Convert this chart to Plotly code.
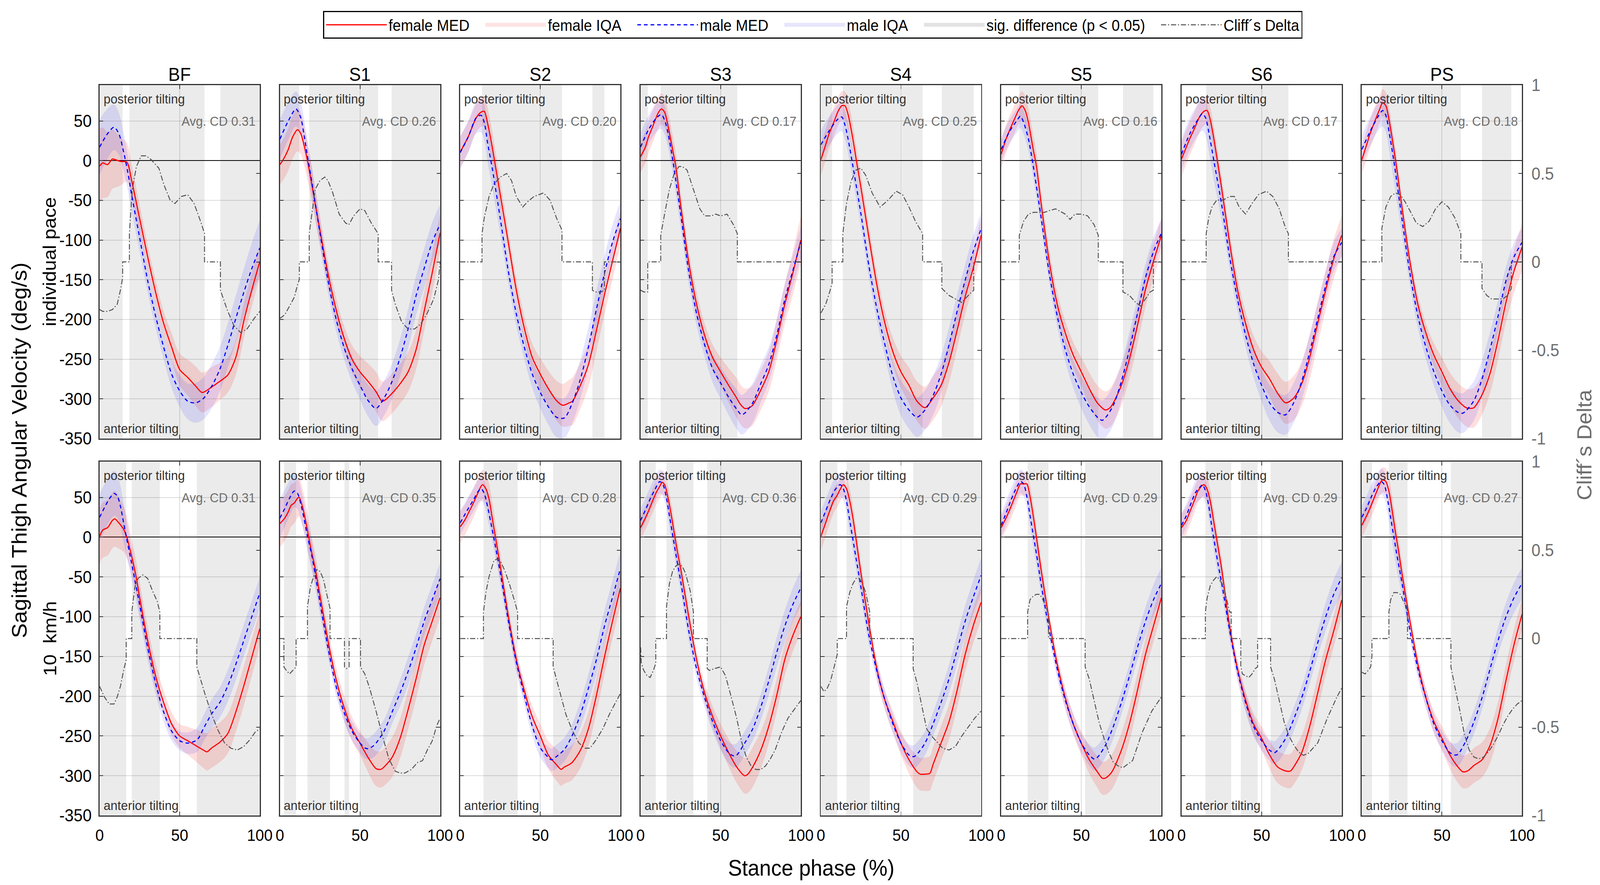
import numpy as np
import plotly.graph_objects as go
from plotly.subplots import make_subplots

# ---------------- DATA ----------------
MUSCLES = ["BF", "S1", "S2", "S3", "S4", "S5", "S6", "PS"]
ROW_LABELS = ["individual pace", "10\u00a0 km/h"]
X_TICKS = [0, 50, 100]
Y_TICKS = [-350, -300, -250, -200, -150, -100, -50, 0, 50]
CD_TICKS = [-1, -0.5, 0, 0.5, 1]
CD_TICK_TEXT = ["-1", "-0.5", "0", "0.5", "1"]
IQR_GRID = [0, 10, 20, 30, 40, 50, 60, 70, 80, 90, 100]

# --- individual pace: (stance %, deg/s) medians
IND_F_MED = {
    "BF": [(0,-7),(2,-3),(5,-5),(8,2),(10,1),(13,-1),(17,-2),(20,-25),(25,-73),(30,-121),(35,-166),(40,-205),(45,-235),(50,-263),(55,-273),(60,-284),(64,-292),(70,-285),(75,-278),(80,-270),(85,-248),(90,-202),(95,-163),(100,-127)],
    "S1": [(0,-5),(2,1),(5,13),(8,30),(11,39),(13,34),(15,20),(17,2),(20,-31),(25,-88),(30,-142),(35,-187),(40,-223),(45,-250),(50,-266),(55,-278),(60,-291),(64,-303),(70,-293),(75,-281),(80,-266),(85,-238),(90,-190),(95,-142),(100,-91)],
    "S2": [(0,11),(5,30),(10,54),(13,61),(15,62),(17,48),(20,17),(22,-7),(25,-43),(30,-103),(35,-163),(40,-211),(45,-248),(50,-269),(55,-287),(60,-302),(64,-308),(68,-305),(70,-303),(75,-283),(80,-257),(85,-214),(90,-169),(95,-127),(100,-85)],
    "S3": [(0,5),(3,17),(5,30),(8,45),(11,60),(13,65),(15,61),(17,45),(20,14),(22,-7),(25,-55),(30,-127),(35,-181),(40,-220),(45,-248),(50,-266),(55,-283),(60,-299),(62,-306),(65,-312),(68,-311),(70,-308),(75,-289),(80,-266),(85,-226),(90,-181),(95,-142),(100,-100)],
    "S4": [(0,1),(3,20),(5,33),(8,48),(11,63),(13,69),(15,69),(17,58),(20,27),(22,2),(25,-34),(30,-97),(35,-157),(40,-205),(45,-241),(50,-266),(55,-283),(60,-303),(65,-311),(70,-299),(75,-283),(80,-254),(85,-214),(90,-172),(95,-136),(100,-94)],
    "S5": [(0,8),(3,27),(5,37),(8,51),(11,64),(13,69),(15,63),(17,48),(20,14),(22,-7),(25,-55),(30,-127),(35,-181),(40,-217),(45,-245),(50,-266),(55,-287),(60,-305),(65,-314),(68,-311),(70,-305),(75,-283),(80,-250),(85,-208),(90,-163),(95,-127),(100,-94)],
    "S6": [(0,2),(3,17),(5,27),(8,40),(11,54),(14,62),(16,63),(18,51),(20,30),(22,5),(25,-34),(30,-103),(35,-163),(40,-205),(45,-238),(50,-260),(55,-275),(60,-293),(65,-305),(70,-299),(75,-281),(80,-248),(85,-205),(90,-163),(95,-124),(100,-94)],
    "PS": [(0,1),(3,20),(5,33),(8,49),(11,64),(13,73),(15,69),(17,51),(20,14),(22,-13),(25,-58),(30,-127),(35,-181),(40,-217),(45,-245),(50,-266),(55,-287),(60,-302),(65,-311),(68,-312),(70,-311),(75,-295),(80,-268),(85,-226),(90,-178),(95,-139),(100,-109)],
}
IND_M_MED = {
    "BF": [(0,17),(5,34),(9,42),(12,34),(15,11),(18,-19),(20,-43),(25,-97),(30,-151),(35,-196),(40,-235),(45,-269),(50,-290),(55,-303),(60,-305),(65,-299),(70,-284),(75,-263),(80,-233),(85,-199),(90,-166),(95,-136),(100,-110)],
    "S1": [(0,27),(5,49),(10,65),(13,54),(15,33),(17,8),(20,-28),(25,-91),(30,-151),(35,-199),(40,-235),(45,-262),(50,-283),(55,-302),(60,-312),(65,-299),(70,-278),(75,-248),(80,-212),(85,-170),(90,-136),(95,-103),(100,-80)],
    "S2": [(0,10),(5,30),(10,54),(13,57),(15,48),(17,23),(20,-10),(25,-73),(30,-139),(35,-193),(40,-235),(45,-269),(50,-292),(55,-310),(60,-323),(65,-324),(70,-305),(75,-275),(80,-235),(85,-187),(90,-142),(95,-103),(100,-73)],
    "S3": [(0,17),(5,39),(10,54),(13,58),(15,51),(17,36),(20,2),(25,-67),(30,-139),(35,-193),(40,-232),(45,-262),(50,-280),(55,-298),(60,-313),(63,-320),(65,-318),(70,-305),(75,-281),(80,-257),(85,-220),(90,-175),(95,-139),(100,-103)],
    "S4": [(0,20),(5,37),(10,51),(13,55),(15,45),(17,27),(20,-7),(25,-67),(30,-133),(35,-187),(40,-232),(45,-272),(50,-299),(55,-314),(60,-323),(65,-314),(70,-296),(75,-269),(80,-232),(85,-190),(90,-151),(95,-115),(100,-86)],
    "S5": [(0,14),(5,36),(10,51),(12,56),(14,48),(17,27),(20,-7),(25,-73),(30,-142),(35,-196),(40,-238),(45,-269),(50,-292),(55,-310),(60,-323),(63,-327),(65,-324),(70,-308),(75,-278),(80,-238),(85,-193),(90,-148),(95,-115),(100,-91)],
    "S6": [(0,8),(5,33),(10,51),(13,59),(15,54),(17,36),(20,2),(25,-55),(30,-121),(35,-175),(40,-220),(45,-256),(50,-283),(55,-305),(60,-317),(65,-320),(70,-305),(75,-278),(80,-241),(85,-199),(90,-157),(95,-121),(100,-103)],
    "PS": [(0,14),(5,36),(10,55),(13,63),(15,57),(17,36),(20,-1),(25,-73),(30,-142),(35,-196),(40,-235),(45,-266),(50,-290),(55,-308),(60,-317),(63,-318),(65,-315),(70,-302),(75,-275),(80,-238),(85,-196),(90,-151),(95,-121),(100,-103)],
}
# IQR half-widths (deg/s) at IQR_GRID
IND_F_IQR = {
    "BF": [47, 35, 20, 15, 15, 20, 25, 25, 22, 22, 20],
    "S1": [25, 28, 22, 15, 15, 20, 25, 25, 25, 25, 25],
    "S2": [20, 18, 20, 15, 15, 20, 25, 30, 28, 25, 22],
    "S3": [20, 20, 18, 15, 15, 18, 25, 25, 25, 25, 30],
    "S4": [20, 18, 18, 15, 15, 20, 25, 28, 25, 22, 22],
    "S5": [18, 18, 18, 15, 15, 18, 22, 25, 25, 22, 22],
    "S6": [22, 20, 15, 15, 15, 20, 25, 28, 28, 25, 25],
    "PS": [18, 18, 15, 12, 12, 18, 22, 25, 25, 25, 30],
}
IND_M_IQR = {
    "BF": [35, 28, 20, 15, 15, 20, 25, 28, 28, 30, 35],
    "S1": [25, 22, 18, 15, 15, 18, 22, 22, 25, 25, 25],
    "S2": [20, 20, 25, 15, 15, 20, 25, 25, 25, 22, 22],
    "S3": [18, 18, 18, 15, 15, 20, 25, 25, 22, 20, 20],
    "S4": [18, 18, 18, 15, 15, 22, 25, 25, 22, 20, 20],
    "S5": [15, 15, 15, 12, 15, 20, 25, 25, 22, 18, 18],
    "S6": [20, 20, 25, 15, 15, 20, 25, 25, 22, 18, 18],
    "PS": [18, 18, 25, 15, 15, 20, 25, 25, 22, 18, 18],
}
# Cliff's delta (stance %, delta)
IND_CD = {
    "BF": [(0,-0.27),(2,-0.28),(5,-0.28),(8,-0.27),(11,-0.24),(13,-0.16),(14.4,-0.09),(14.4,0),(18.6,0),(18.6,0.16),(20.4,0.41),(23,0.54),(26,0.6),(29,0.6),(32,0.58),(37,0.53),(40,0.44),(44,0.35),(47,0.33),(51,0.37),(55,0.38),(59,0.33),(63,0.23),(65.5,0.16),(65.5,0),(75.4,0),(75.4,-0.16),(79.6,-0.27),(83.8,-0.36),(88,-0.40),(92,-0.38),(96.5,-0.32),(100,-0.28)],
    "S1": [(0,-0.32),(3,-0.30),(6,-0.25),(9,-0.2),(11,-0.13),(12.1,-0.1),(12.1,0),(18.3,0),(18.3,0.16),(20,0.27),(22,0.41),(25,0.46),(28,0.48),(30,0.46),(33,0.39),(37,0.27),(41,0.22),(43,0.21),(46,0.26),(50,0.30),(53,0.29),(57,0.22),(61.3,0.16),(61.3,0),(69.7,0),(69.7,-0.16),(72,-0.24),(76,-0.34),(80,-0.38),(84,-0.38),(88,-0.35),(92,-0.29),(96,-0.21),(99,-0.1),(100,0)],
    "S2": [(0,0),(13.6,0),(13.6,0.16),(15,0.25),(18,0.37),(21,0.44),(25,0.48),(29,0.50),(32,0.46),(35,0.37),(39,0.31),(42,0.34),(46,0.37),(52,0.39),(56,0.35),(60,0.25),(63.5,0.18),(63.5,0),(82.5,0),(82.5,-0.16),(84,-0.17),(88,-0.17),(90,-0.16),(90,0),(100,0)],
    "S3": [(0,-0.16),(2,-0.17),(4.5,-0.17),(4.5,0),(12.6,0),(12.6,0.15),(15,0.27),(18,0.41),(21,0.50),(24,0.54),(26,0.54),(29,0.52),(33,0.41),(37,0.30),(40,0.26),(44,0.26),(47,0.27),(50,0.26),(54,0.27),(58,0.21),(60.4,0.16),(60.4,0),(100,0)],
    "S4": [(0,-0.29),(3,-0.24),(5.5,-0.17),(7,-0.12),(7,0),(13.7,0),(13.7,0.16),(16,0.33),(19,0.46),(22,0.52),(25,0.53),(28,0.49),(32,0.39),(37,0.31),(42,0.35),(47,0.40),(51,0.38),(55,0.31),(59,0.23),(63.5,0.16),(63.5,0),(75.5,0),(75.5,-0.15),(80,-0.19),(84,-0.21),(88,-0.23),(92,-0.19),(95.4,-0.16),(95.4,0),(100,0)],
    "S5": [(0,0),(11.3,0),(11.3,0.15),(14,0.23),(17,0.27),(20,0.28),(24,0.28),(27,0.28),(30,0.29),(34,0.30),(36,0.29),(40,0.27),(43,0.24),(46,0.27),(50,0.27),(54,0.26),(58,0.21),(60.6,0.15),(60.6,0),(76,0),(76,-0.17),(80,-0.19),(84,-0.23),(87,-0.25),(90,-0.21),(93,-0.17),(95,-0.16),(95,0),(100,0)],
    "S6": [(0,0),(15.4,0),(15.4,0.16),(17,0.25),(19,0.31),(22,0.35),(26,0.35),(30,0.37),(33,0.37),(36,0.31),(40,0.27),(44,0.33),(48,0.38),(53,0.40),(57,0.37),(61,0.30),(65,0.19),(66.7,0.16),(66.7,0),(100,0)],
    "PS": [(0,0),(12.5,0),(12.5,0.19),(15,0.31),(18,0.37),(21,0.39),(24,0.38),(27,0.34),(30,0.29),(34,0.22),(38,0.20),(42,0.23),(46,0.30),(50,0.34),(54,0.31),(58,0.25),(61,0.18),(61.8,0.16),(61.8,0),(75,0),(75,-0.15),(78,-0.19),(81,-0.21),(85,-0.21),(88,-0.21),(91,-0.19),(93.3,-0.15),(93.3,0),(100,0)],
}
IND_SIG = {
    "BF": [(0,14.4),(18.6,65.5),(75.4,100)],
    "S1": [(0,12.1),(18.3,61.3),(69.7,100)],
    "S2": [(13.6,63.5),(82.5,90)],
    "S3": [(0,4.5),(12.6,60.4)],
    "S4": [(0,7),(13.7,63.5),(75.5,95.4)],
    "S5": [(11.3,60.6),(76,95)],
    "S6": [(15.4,66.7)],
    "PS": [(12.5,61.8),(75,93.3)],
}
IND_AVG_CD = {"BF": 0.31, "S1": 0.26, "S2": 0.20, "S3": 0.17, "S4": 0.25, "S5": 0.16, "S6": 0.17, "PS": 0.18}

# --- 10 km/h
KMH_F_MED = {
    "BF": [(0,1),(2,9),(5,12),(8,21),(9.5,23),(12,18),(15,10),(17,0),(20,-24),(23,-52),(25,-76),(30,-130),(35,-175),(40,-208),(45,-235),(50,-250),(55,-256),(60,-262),(65,-268),(67,-270),(70,-265),(75,-258),(80,-247),(85,-220),(90,-187),(95,-151),(100,-115)],
    "S1": [(0,17),(3,24),(5,31),(7,40),(9,43),(11,49),(12,50),(14,39),(16,21),(18,0),(20,-21),(22,-39),(25,-73),(30,-130),(35,-178),(40,-214),(45,-241),(50,-259),(55,-277),(60,-291),(63,-292),(65,-289),(70,-277),(75,-253),(80,-217),(85,-178),(90,-136),(95,-106),(100,-76)],
    "S2": [(0,13),(3,22),(5,30),(8,42),(10,51),(13,64),(14,66),(16,61),(18,48),(20,24),(22,0),(25,-36),(30,-99),(35,-154),(40,-193),(45,-226),(50,-250),(55,-274),(60,-286),(63,-292),(65,-289),(68,-286),(70,-283),(75,-268),(80,-241),(85,-199),(90,-151),(95,-106),(100,-64)],
    "S3": [(0,12),(3,24),(5,33),(8,48),(10,57),(12,64),(13.5,69),(15,66),(17,51),(19,30),(21,6),(23,-18),(25,-39),(30,-99),(35,-154),(40,-196),(45,-226),(50,-250),(55,-271),(60,-289),(65,-300),(67,-298),(70,-289),(75,-268),(80,-238),(85,-199),(90,-154),(95,-124),(100,-100)],
    "S4": [(0,1),(3,18),(5,30),(8,46),(10,52),(12,60),(14,66),(16,61),(18,46),(20,24),(22,-3),(25,-45),(30,-109),(35,-166),(40,-205),(45,-232),(50,-259),(55,-280),(60,-295),(62,-298),(65,-298),(68,-297),(70,-286),(75,-259),(80,-232),(85,-193),(90,-148),(95,-112),(100,-82)],
    "S5": [(0,12),(3,24),(5,33),(8,48),(10,58),(12,67),(14,67),(16,67),(18,51),(20,27),(22,0),(25,-42),(30,-105),(35,-160),(40,-202),(45,-235),(50,-259),(55,-280),(60,-295),(63,-303),(65,-303),(68,-298),(70,-292),(75,-268),(80,-235),(85,-193),(90,-148),(95,-112),(100,-76)],
    "S6": [(0,12),(3,21),(5,31),(8,46),(10,57),(12,63),(14,66),(16,60),(18,45),(20,21),(22,-3),(25,-39),(30,-112),(35,-166),(40,-205),(45,-235),(50,-253),(55,-274),(60,-289),(65,-294),(68,-294),(70,-289),(75,-271),(80,-238),(85,-196),(90,-154),(95,-118),(100,-79)],
    "PS": [(0,15),(3,27),(5,36),(8,51),(10,61),(12,70),(13,72),(15,70),(17,57),(19,33),(21,6),(23,-18),(25,-45),(30,-105),(35,-160),(40,-202),(45,-232),(50,-253),(55,-274),(60,-289),(63,-295),(66,-294),(70,-287),(75,-280),(80,-262),(85,-228),(90,-180),(95,-135),(100,-97)],
}
KMH_M_MED = {
    "BF": [(0,25),(3,37),(6,48),(9,55),(11,52),(13,39),(15,18),(17,-3),(20,-33),(25,-85),(30,-139),(35,-184),(40,-220),(45,-244),(50,-256),(55,-259),(60,-256),(62,-252),(65,-240),(70,-222),(75,-208),(80,-187),(85,-160),(90,-130),(95,-100),(100,-70)],
    "S1": [(0,24),(3,36),(6,49),(9,58),(11,55),(13,42),(15,24),(17,3),(20,-24),(25,-82),(30,-139),(35,-187),(40,-220),(45,-244),(50,-259),(53,-265),(55,-266),(58,-263),(60,-259),(65,-244),(70,-220),(75,-196),(80,-169),(85,-139),(90,-106),(95,-79),(100,-52)],
    "S2": [(0,18),(5,36),(8,46),(11,57),(13,61),(15,55),(17,39),(20,9),(22,-12),(25,-45),(30,-105),(35,-157),(40,-199),(45,-238),(50,-265),(55,-277),(57,-280),(60,-276),(65,-267),(70,-249),(75,-223),(80,-190),(85,-154),(90,-112),(95,-76),(100,-39)],
    "S3": [(0,21),(3,34),(6,48),(9,60),(12,70),(14,66),(16,51),(18,27),(20,3),(22,-21),(25,-55),(30,-117),(35,-166),(40,-202),(45,-232),(50,-256),(55,-271),(58,-275),(60,-274),(65,-259),(70,-241),(75,-214),(80,-181),(85,-145),(90,-112),(95,-85),(100,-64)],
    "S4": [(0,18),(3,33),(6,48),(9,60),(12,66),(14,61),(16,45),(18,21),(20,-3),(22,-27),(25,-63),(30,-124),(35,-169),(40,-205),(45,-235),(50,-259),(55,-274),(58,-276),(60,-273),(65,-259),(70,-235),(75,-208),(80,-178),(85,-142),(90,-106),(95,-76),(100,-48)],
    "S5": [(0,15),(3,30),(6,46),(9,60),(12,70),(14,67),(16,51),(18,27),(20,3),(22,-21),(25,-60),(30,-117),(35,-166),(40,-205),(45,-235),(50,-259),(55,-274),(58,-279),(60,-277),(65,-262),(70,-238),(75,-208),(80,-175),(85,-139),(90,-106),(95,-79),(100,-58)],
    "S6": [(0,15),(3,27),(6,43),(9,57),(12,64),(13,66),(15,58),(17,39),(19,12),(21,-12),(23,-36),(25,-57),(30,-117),(35,-169),(40,-208),(45,-238),(50,-256),(55,-268),(58,-271),(60,-268),(65,-253),(70,-229),(75,-202),(80,-169),(85,-133),(90,-100),(95,-72),(100,-51)],
    "PS": [(0,25),(3,37),(6,51),(9,63),(12,70),(14,66),(16,48),(18,24),(20,0),(22,-24),(25,-57),(30,-117),(35,-166),(40,-202),(45,-235),(50,-256),(55,-271),(58,-274),(60,-273),(65,-256),(70,-232),(75,-202),(80,-166),(85,-130),(90,-100),(95,-76),(100,-58)],
}
KMH_F_IQR = {
    "BF": [35, 35, 22, 18, 15, 15, 20, 25, 25, 25, 22],
    "S1": [30, 25, 20, 15, 15, 15, 22, 25, 25, 25, 25],
    "S2": [20, 18, 20, 12, 12, 15, 20, 22, 22, 22, 22],
    "S3": [15, 15, 15, 12, 12, 15, 20, 25, 22, 20, 20],
    "S4": [18, 15, 15, 12, 12, 15, 20, 22, 22, 22, 22],
    "S5": [15, 15, 15, 12, 12, 15, 20, 22, 22, 20, 20],
    "S6": [18, 15, 15, 12, 12, 15, 20, 22, 22, 20, 20],
    "PS": [15, 15, 18, 12, 12, 15, 20, 22, 22, 20, 20],
}
KMH_M_IQR = {
    "BF": [30, 28, 20, 15, 12, 12, 15, 18, 20, 20, 20],
    "S1": [25, 20, 18, 12, 12, 12, 15, 15, 18, 18, 20],
    "S2": [15, 15, 15, 12, 12, 12, 15, 15, 18, 20, 22],
    "S3": [15, 15, 15, 12, 12, 12, 15, 15, 18, 20, 22],
    "S4": [15, 15, 15, 12, 12, 12, 15, 15, 18, 20, 22],
    "S5": [15, 15, 15, 12, 12, 12, 15, 15, 15, 18, 20],
    "S6": [15, 15, 15, 12, 12, 12, 15, 15, 15, 18, 20],
    "PS": [15, 15, 20, 12, 12, 12, 15, 15, 15, 18, 20],
}
KMH_CD = {
    "BF": [(0,-0.27),(3,-0.33),(6,-0.37),(9,-0.37),(11,-0.33),(13,-0.27),(15,-0.18),(16.6,-0.12),(16.6,0),(20.1,0),(20.1,0.15),(22,0.29),(24,0.34),(27,0.36),(30,0.34),(33,0.27),(36,0.21),(37.6,0.15),(37.6,0),(60.7,0),(60.7,-0.16),(63,-0.23),(66,-0.32),(70,-0.43),(74,-0.52),(78,-0.59),(82,-0.62),(86,-0.63),(90,-0.61),(94,-0.57),(97,-0.53),(100,-0.51)],
    "S1": [(0,0),(2.5,0),(2.5,-0.16),(4,-0.18),(6,-0.20),(8,-0.18),(10.1,-0.16),(10.1,0),(17.2,0),(17.2,0.18),(19,0.29),(21,0.35),(23,0.39),(25,0.38),(27,0.34),(29,0.26),(31.3,0.17),(31.3,0),(40.3,0),(40.3,-0.16),(41.5,-0.17),(43.2,-0.16),(43.2,0),(50.3,0),(50.3,-0.16),(53,-0.2),(56,-0.28),(60,-0.41),(64,-0.55),(68,-0.68),(72,-0.75),(75,-0.76),(78,-0.76),(82,-0.74),(86,-0.70),(89,-0.69),(92,-0.63),(95,-0.58),(98,-0.49),(100,-0.45)],
    "S2": [(0,0),(14.5,0),(14.5,0.15),(16,0.26),(18,0.35),(21,0.44),(23,0.45),(25,0.44),(28,0.38),(31,0.30),(34,0.21),(35.8,0.15),(35.8,0),(58,0),(58,-0.16),(60,-0.23),(63,-0.33),(66,-0.43),(70,-0.52),(74,-0.59),(78,-0.62),(81,-0.62),(85,-0.57),(89,-0.51),(93,-0.43),(97,-0.36),(100,-0.31)],
    "S3": [(0,-0.05),(0.5,-0.14),(2,-0.18),(4,-0.21),(6,-0.22),(8,-0.18),(9.5,-0.14),(9.5,0),(16.2,0),(16.2,0.18),(18,0.31),(20,0.38),(22,0.41),(24,0.42),(26,0.41),(28,0.37),(31,0.27),(33,0.15),(33,0),(41.6,0),(41.6,-0.17),(43,-0.18),(46,-0.17),(50,-0.16),(53,-0.21),(56,-0.31),(60,-0.45),(63,-0.58),(66,-0.67),(69,-0.72),(72,-0.74),(75,-0.74),(78,-0.72),(81,-0.68),(84,-0.63),(88,-0.53),(92,-0.45),(96,-0.40),(100,-0.35)],
    "S4": [(0,-0.27),(2,-0.30),(4,-0.28),(6,-0.24),(8,-0.17),(10.2,-0.09),(10.2,0),(16,0),(16,0.18),(18,0.26),(20,0.31),(22,0.34),(24,0.34),(26,0.31),(28,0.26),(30.5,0.15),(30.5,0),(57.6,0),(57.6,-0.17),(60,-0.25),(63,-0.38),(66,-0.51),(69,-0.55),(72,-0.58),(76,-0.62),(80,-0.63),(84,-0.61),(88,-0.55),(92,-0.50),(96,-0.45),(100,-0.41)],
    "S5": [(0,0),(16.5,0),(16.5,0.15),(18,0.22),(20,0.24),(22,0.25),(24,0.25),(26,0.22),(28,0.18),(29.5,0.14),(29.5,0),(52.4,0),(52.4,-0.16),(55,-0.23),(58,-0.35),(61,-0.47),(64,-0.56),(67,-0.64),(70,-0.70),(73,-0.72),(76,-0.73),(79,-0.71),(82,-0.69),(85,-0.61),(88,-0.53),(91,-0.47),(94,-0.41),(97,-0.37),(100,-0.33)],
    "S6": [(0,0),(14.9,0),(14.9,0.15),(16,0.23),(18,0.30),(20,0.33),(22,0.35),(24,0.33),(26,0.30),(28,0.23),(30,0.15),(31,0.15),(31,0),(37,0),(37,-0.16),(38,-0.20),(40,-0.21),(42,-0.22),(44,-0.20),(46,-0.17),(47.5,-0.16),(47.5,0),(55.6,0),(55.6,-0.16),(58,-0.23),(61,-0.35),(64,-0.47),(67,-0.55),(70,-0.60),(73,-0.64),(76,-0.66),(79,-0.65),(82,-0.62),(85,-0.59),(88,-0.52),(91,-0.45),(94,-0.39),(97,-0.33),(100,-0.28)],
    "PS": [(0,-0.19),(2,-0.20),(4,-0.18),(5.5,-0.16),(6.3,-0.1),(6.3,0),(16.9,0),(16.9,0.15),(18,0.22),(20,0.26),(22,0.26),(24,0.25),(26,0.21),(28,0.18),(28.5,0.14),(28.5,0),(55.6,0),(55.6,-0.16),(58,-0.27),(61,-0.40),(64,-0.54),(67,-0.63),(70,-0.67),(73,-0.68),(76,-0.67),(79,-0.64),(82,-0.60),(85,-0.55),(88,-0.49),(91,-0.44),(94,-0.40),(97,-0.37),(100,-0.35)],
}
KMH_SIG = {
    "BF": [(0,16.6),(20.1,37.6),(60.7,100)],
    "S1": [(2.5,10.1),(17.2,31.3),(40.3,43.2),(50.3,100)],
    "S2": [(14.5,35.8),(58,100)],
    "S3": [(0,9.5),(16.2,33),(41.6,100)],
    "S4": [(0,10.2),(16,30.5),(57.6,100)],
    "S5": [(16.5,29.5),(52.4,100)],
    "S6": [(14.9,31),(37,47.5),(55.6,100)],
    "PS": [(0,6.3),(16.9,28.5),(55.6,100)],
}
KMH_AVG_CD = {"BF": 0.31, "S1": 0.35, "S2": 0.28, "S3": 0.36, "S4": 0.29, "S5": 0.29, "S6": 0.29, "PS": 0.27}

ROWS = [
    (IND_F_MED, IND_M_MED, IND_F_IQR, IND_M_IQR, IND_CD, IND_SIG, IND_AVG_CD),
    (KMH_F_MED, KMH_M_MED, KMH_F_IQR, KMH_M_IQR, KMH_CD, KMH_SIG, KMH_AVG_CD),
]

# ---------------- STYLE ----------------
W, H = 4354, 2266
FONT = "Liberation Sans, Arial, Helvetica, sans-serif"
F_COL = "#ff0000"
M_COL = "#0000ff"
F_FILL = "rgba(255,0,0,0.13)"
M_FILL = "rgba(0,0,255,0.10)"
SIG_COL = "#ebebeb"
CD_COL = "#505050"
GRID_COL = "rgba(0,0,0,0.14)"
AX_COL = "#333333"
PAD = "\u00a0\u00a0\u00a0"   # spacing after legend entries

PANEL_LEFT = 271
PANEL_PITCH = 490.7
PANEL_W = 436
ROW_PX = [(218, 1123), (1182, 2088)]

fig = make_subplots(rows=2, cols=8, specs=[[{"secondary_y": True}] * 8 for _ in range(2)])


def pairs(p):
    xs, ys = zip(*p)
    return np.array(xs, float), np.array(ys, float)


for r, (FM, MM, FI, MI, CDD, SIG, AVG) in enumerate(ROWS):
    for c, mus in enumerate(MUSCLES):
        row, col = r + 1, c + 1
        first = (r == 0 and c == 0)
        x0 = (PANEL_LEFT + PANEL_PITCH * c) / W
        x1 = (PANEL_LEFT + PANEL_PITCH * c + PANEL_W) / W
        yt, yb = ROW_PX[r]
        dom_y = [1 - yb / H, 1 - yt / H]
        sp = fig.get_subplot(row, col)
        sp2 = fig.get_subplot(row, col, secondary_y=True)
        sp.xaxis.domain = [x0, x1]
        sp.yaxis.domain = dom_y
        sp2.yaxis.domain = dom_y

        for med, iqr, fill in ((FM[mus], FI[mus], F_FILL), (MM[mus], MI[mus], M_FILL)):
            xs, ys = pairs(med)
            sprd = np.interp(xs, IQR_GRID, iqr)
            fig.add_trace(go.Scatter(x=xs, y=ys + sprd, mode="lines", line=dict(width=0, shape="spline"),
                                     showlegend=False, hoverinfo="skip"), row=row, col=col, secondary_y=False)
            fig.add_trace(go.Scatter(x=xs, y=ys - sprd, mode="lines", line=dict(width=0, shape="spline"),
                                     fill="tonexty", fillcolor=fill, showlegend=False, hoverinfo="skip"),
                          row=row, col=col, secondary_y=False)

        for med, colr, dash, nm, rank in ((FM[mus], F_COL, "solid", "female MED", 1),
                                          (MM[mus], M_COL, "10px,8px", "male MED", 3)):
            xs, ys = pairs(med)
            fig.add_trace(go.Scatter(x=xs, y=ys, mode="lines", name=nm + PAD,
                                     line=dict(color=colr, width=3, dash=dash, shape="spline", smoothing=0.8),
                                     showlegend=first, legendrank=rank, legendgroup=nm),
                          row=row, col=col, secondary_y=False)

        xs, ys = pairs(CDD[mus])
        fig.add_trace(go.Scatter(x=xs, y=ys, mode="lines", name="Cliff\u00b4s Delta",
                                 line=dict(color=CD_COL, width=2.5, dash="14px,5px,3px,5px"),
                                 showlegend=first, legendrank=6, legendgroup="cd"),
                      row=row, col=col, secondary_y=True)

        # significant-difference bands
        for a, b in SIG[mus]:
            fig.add_vrect(x0=a, x1=b, row=row, col=col, fillcolor=SIG_COL, opacity=1,
                          line_width=0, layer="below", exclude_empty_subplots=False)

        # axes
        fig.update_xaxes(range=[0, 100], tickvals=X_TICKS, ticks="inside", ticklen=10, tickwidth=2,
                         tickcolor=AX_COL, showline=True, linecolor=AX_COL, linewidth=2.5, mirror="ticks",
                         showgrid=True, gridcolor=GRID_COL, gridwidth=2, zeroline=False,
                         showticklabels=(r == 1), tickfont=dict(size=42, color="black", family=FONT),
                         ticklabelstandoff=12, automargin=False, row=row, col=col)
        fig.update_yaxes(range=[-350, 95], tickvals=Y_TICKS, ticktext=[str(v) for v in Y_TICKS],
                         ticks="inside", ticklen=10, tickwidth=2, tickcolor=AX_COL, showline=True,
                         linecolor=AX_COL, linewidth=2.5, mirror=True, showgrid=True, gridcolor=GRID_COL,
                         gridwidth=2, zeroline=True, zerolinecolor="black", zerolinewidth=2,
                         showticklabels=(c == 0), tickfont=dict(size=44, color="black", family=FONT),
                         ticklabelstandoff=10, automargin=False, row=row, col=col, secondary_y=False)
        fig.update_yaxes(range=[-1, 1], tickvals=CD_TICKS, ticktext=CD_TICK_TEXT, ticks="inside",
                         ticklen=10, tickwidth=2, tickcolor=AX_COL, showline=True, linecolor=AX_COL,
                         linewidth=2.5, showgrid=False, zeroline=False, showticklabels=(c == 7),
                         tickfont=dict(size=44, color="#6e6e6e", family=FONT), ticklabelstandoff=14,
                         automargin=False, row=row, col=col, secondary_y=True)

        # in-panel texts
        fig.add_annotation(x=2, y=78, text="posterior tilting", showarrow=False, xanchor="left",
                           yanchor="middle", font=dict(size=34, color="#333333", family=FONT),
                           row=row, col=col, secondary_y=False)
        fig.add_annotation(x=2, y=-337, text="anterior tilting", showarrow=False, xanchor="left",
                           yanchor="middle", font=dict(size=34, color="#333333", family=FONT),
                           row=row, col=col, secondary_y=False)
        fig.add_annotation(x=98, y=50, text="Avg. CD %.2f" % AVG[mus], showarrow=False, xanchor="right",
                           yanchor="middle", font=dict(size=34, color="#6e6e6e", family=FONT),
                           row=row, col=col, secondary_y=False)
        if r == 0:
            fig.add_annotation(x=(x0 + x1) / 2, y=1 - 190 / H, xref="paper", yref="paper", text=mus,
                               showarrow=False, xanchor="center", yanchor="middle",
                               font=dict(size=48, color="black", family=FONT))
        if c == 0:
            fig.add_annotation(x=136 / W, y=sum(dom_y) / 2, xref="paper", yref="paper",
                               text=ROW_LABELS[r], textangle=-90, showarrow=False,
                               xanchor="center", yanchor="middle",
                               font=dict(size=50, color="black", family=FONT))

# legend-only entries for the shaded areas
fig.add_trace(go.Scatter(x=[None], y=[None], mode="lines", name="female IQA" + PAD,
                         line=dict(color="#fde3e3", width=30), legendrank=2), row=1, col=1)
fig.add_trace(go.Scatter(x=[None], y=[None], mode="lines", name="male IQA" + PAD,
                         line=dict(color="#e5e5fb", width=30), legendrank=4), row=1, col=1)
fig.add_trace(go.Scatter(x=[None], y=[None], mode="lines", name="sig. difference (p < 0.05)" + PAD,
                         line=dict(color="#e3e3e3", width=30), legendrank=5), row=1, col=1)

# global titles
fig.add_annotation(x=52 / W, y=1 - 1153 / H, xref="paper", yref="paper",
                   text="Sagittal Thigh Angular Velocity (deg/s)", textangle=-90, showarrow=False,
                   xanchor="center", yanchor="middle", font=dict(size=57, color="black", family=FONT))
fig.add_annotation(x=4312 / W, y=1 - 1139 / H, xref="paper", yref="paper",
                   text="Cliff\u00b4s Delta", textangle=-90, showarrow=False,
                   xanchor="center", yanchor="middle", font=dict(size=55, color="#6e6e6e", family=FONT))
fig.add_annotation(x=2208 / W, y=1 - 2222 / H, xref="paper", yref="paper",
                   text="Stance phase (%)", showarrow=False, xanchor="center", yanchor="middle",
                   font=dict(size=57, color="black", family=FONT))

fig.update_layout(
    width=W, height=H, margin=dict(l=0, r=0, t=0, b=0),
    paper_bgcolor="white", plot_bgcolor="rgba(0,0,0,0)",
    font=dict(family=FONT, size=40, color="black"),
    legend=dict(orientation="h", x=2212 / W, xanchor="center", y=1 - 28 / H, yanchor="top",
                bordercolor="black", borderwidth=3, bgcolor="white",
                font=dict(size=40, family=FONT, color="black"), itemwidth=165,
                traceorder="normal"),
    hovermode=False,
)

# fit the fixed-size figure to the actual browser viewport
FIT_JS = (
    "var gd=document.getElementById('{plot_id}');"
    "document.documentElement.style.margin='0';document.body.style.margin='0';"
    "document.body.style.overflow='hidden';document.body.style.background='white';"
    "var sx=window.innerWidth/%d, sy=window.innerHeight/%d;"
    "if (Math.abs(sx-1)>0.002 || Math.abs(sy-1)>0.002){"
    "gd.style.transformOrigin='0 0';gd.style.transform='scale('+sx+','+sy+')';}"
) % (W, H)

fig.write_html("out.html", post_script=FIT_JS, config={"displayModeBar": False})
